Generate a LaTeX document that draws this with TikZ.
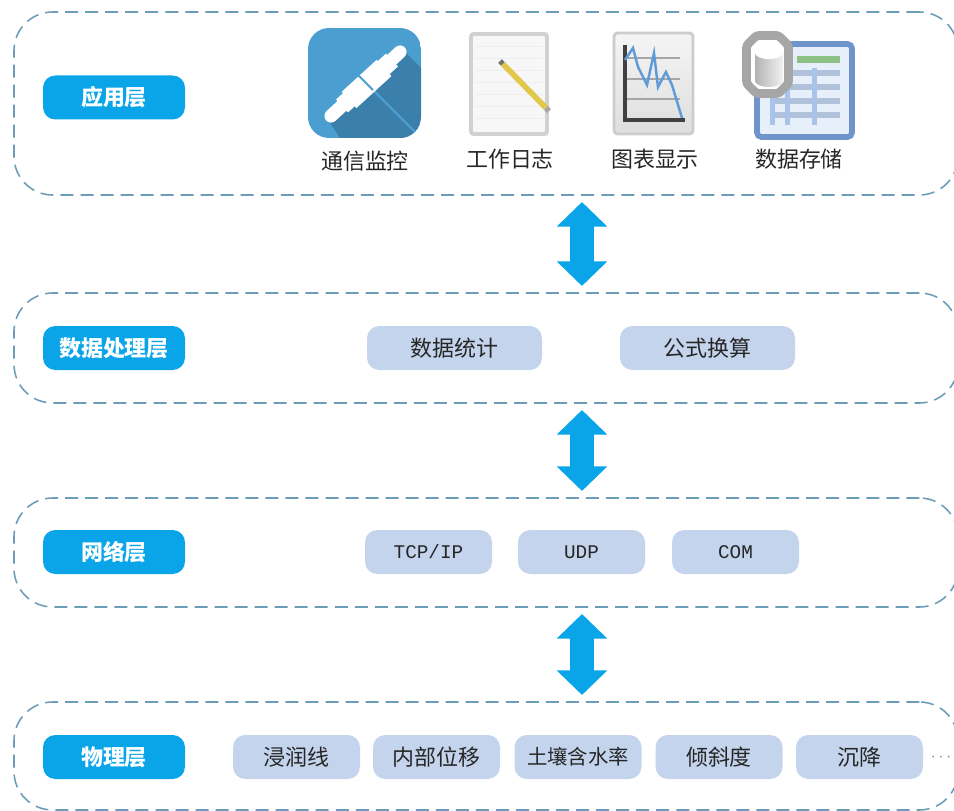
\documentclass[tikz,border=0pt]{standalone}
\usepackage{fontspec}
\setmainfont{Noto Sans CJK SC}
\setmonofont{Liberation Mono}
\usetikzlibrary{arrows.meta}
\definecolor{layerblue}{HTML}{0AA5E8}
\definecolor{itemblue}{HTML}{C3D4EC}
\definecolor{dashblue}{HTML}{6C9DB8}
\definecolor{iconblue}{HTML}{4A9FD0}
\definecolor{icondark}{HTML}{3B7FAB}
\definecolor{pencil}{HTML}{E2C84A}
\definecolor{plotblue}{HTML}{5F9BD8}
\definecolor{tableblue}{HTML}{6F94CC}
\definecolor{tablerow}{HTML}{AFC2DA}
\definecolor{tablecol}{HTML}{A9C4EA}
\definecolor{tablefill}{HTML}{E6EFFA}
\definecolor{tablegreen}{HTML}{8CC084}
\tikzset{
  panel/.style={draw=dashblue,line width=0.9pt,dash pattern=on 7.4pt off 4pt,rounded corners=22pt,
    inner sep=0pt,outer sep=0pt,minimum width=944*0.02cm},
  layer/.style={fill=layerblue,text=white,font=\fontsize{12.5}{15}\selectfont\bfseries,rounded corners=7pt,
    inner sep=0pt,outer sep=0pt,minimum width=142*0.02cm,minimum height=44*0.02cm},
  item/.style={fill=itemblue,text=black!85,font=\fontsize{12.5}{15}\selectfont,rounded corners=7pt,
    inner sep=0pt,outer sep=0pt,minimum width=127*0.02cm,minimum height=44*0.02cm},
  wide/.style={minimum width=175*0.02cm},
  proto/.style={font=\fontsize{11}{14}\selectfont\ttfamily},
  caption/.style={text=black!85,font=\fontsize{12.5}{15}\selectfont,inner sep=0pt},
  updown/.style={{Triangle[width=28pt,length=14pt]}-{Triangle[width=28pt,length=14pt]},
    draw=layerblue,fill=layerblue,line width=13.5pt,shorten >=4pt,shorten <=4pt}
}
\begin{document}
\begin{tikzpicture}[x=0.02cm,y=-0.02cm]
\useasboundingbox (0,0) rectangle (954,811);
% layers
\node[panel,minimum height=183*0.02cm] (applayer) at (486,103.5) {};
\node[panel,minimum height=110*0.02cm] (datalayer) at (486,348) {};
\node[panel,minimum height=109*0.02cm] (netlayer) at (486,552.5) {};
\node[panel,minimum height=108*0.02cm] (phylayer) at (486,756) {};
\node[layer] (applabel) at (114,97.5) {应用层};
\node[layer] (datalabel) at (114,348) {数据处理层};
\node[layer] (netlabel) at (114,552) {网络层};
\node[layer] (phylabel) at (114,757) {物理层};
% items
\node[item,wide] (stat) at (454.5,348) {数据统计};
\node[item,wide] (formula) at (707.5,348) {公式换算};
\node[item,proto] (tcp) at (428.5,552) {TCP/IP};
\node[item,proto] (udp) at (581.5,552) {UDP};
\node[item,proto] (com) at (735.5,552) {COM};
\node[item] (wetline) at (296.5,757) {浸润线};
\node[item] (shift) at (436.5,757) {内部位移};
\node[item,font=\fontsize{11.6}{15}\selectfont] (soil) at (578,757) {土壤含水率};
\node[item] (tilt) at (719,757) {倾斜度};
\node[item] (settle) at (859.5,757) {沉降};
\node[text=black!45,font=\fontsize{10}{12}\selectfont,inner sep=0pt] (more) at (941,758) {$\cdots$};
% arrows
\coordinate (axis) at (582,0);
\draw[updown] (applayer.south -| axis) -- (datalayer.north -| axis);
\draw[updown] (datalayer.south -| axis) -- (netlayer.north -| axis);
\draw[updown] (netlayer.south -| axis) -- (phylayer.north -| axis);
% icon: plug
\begin{scope}
\clip[rounded corners=12pt] (308,28) rectangle (421,138);
\fill[iconblue] (308,28) rectangle (421,138);
\fill[icondark] (400,47) -- (421,68) -- (421,138) -- (340,138) -- (327,118) -- cycle;
\draw[iconblue,line width=1.3pt] (373,90) -- (415,132);
\draw[white,line width=7.5pt,line cap=round] (331,116) -- (400,52);
\draw[white,line width=10pt] (342,106) -- (392,60);
\draw[white,line width=12.5pt] (349,100) -- (384,68);
\draw[iconblue,line width=1.1pt] (358,75) -- (373,90);
\end{scope}
% icon: notepad
\draw[draw=black!18,fill=black!3,line width=2.2pt,rounded corners=1.5pt] (471,34) rectangle (547,134);
\foreach \y in {46,58,70,82,94,106,118}
  \draw[black!7,line width=0.4pt] (475,\y) -- (543,\y);
\draw[black!55,line width=3pt] (500,61) -- (503,64);
\draw[pencil,line width=3.2pt] (503,64) -- (546,108);
\draw[black!35,line width=3.2pt] (546,108) -- (549,111);
% icon: chart
\shade[top color=black!4,bottom color=black!13,draw=black!20,line width=1.6pt,rounded corners=2pt] (614,33) rectangle (693,134);
\foreach \y in {58,79,99}
  \draw[black!35,line width=1.1pt] (625,\y) -- (680,\y);
\draw[black!75,line width=2pt] (625,45) -- (625,120) -- (685,120);
\draw[plotblue,line width=1.4pt] (625,60) -- (633,48) -- (638,67) -- (647,85) -- (654,53) -- (658,87) -- (666,72) -- (672,85) -- (682,118);
% icon: storage
\draw[draw=tableblue,fill=tablefill,line width=3.2pt,rounded corners=2.5pt] (757,44) rectangle (852,137);
\fill[tablegreen] (797,56) rectangle (840,63);
\foreach \y in {73,87,101,115}
  \fill[tablerow] (770,\y-3) rectangle (840,\y+3);
\foreach \x in {772,787,814}
  \fill[tablecol] (\x-2.5,68) rectangle (\x+2.5,125);
\draw[draw=black!35,fill=white,line width=5pt,rounded corners=1.5pt] (756.5,35.5) -- (778.5,35.5) -- (788.5,45.5) -- (788.5,83.5) -- (778.5,93.5) -- (756.5,93.5) -- (746.5,83.5) -- (746.5,45.5) -- cycle;
\shade[left color=black!30,right color=black!5] (755,53) -- (755,81) arc[start angle=180,end angle=0,x radius=14,y radius=6] -- (783,53) -- cycle;
\fill[white] (769,53) ellipse[x radius=14,y radius=6];
% icon captions
\node[caption] (monitor) at (365,161) {通信监控};
\node[caption] (journal) at (510,159) {工作日志};
\node[caption] (graph) at (655,159) {图表显示};
\node[caption] (store) at (799,159) {数据存储};
\end{tikzpicture}
\end{document}
